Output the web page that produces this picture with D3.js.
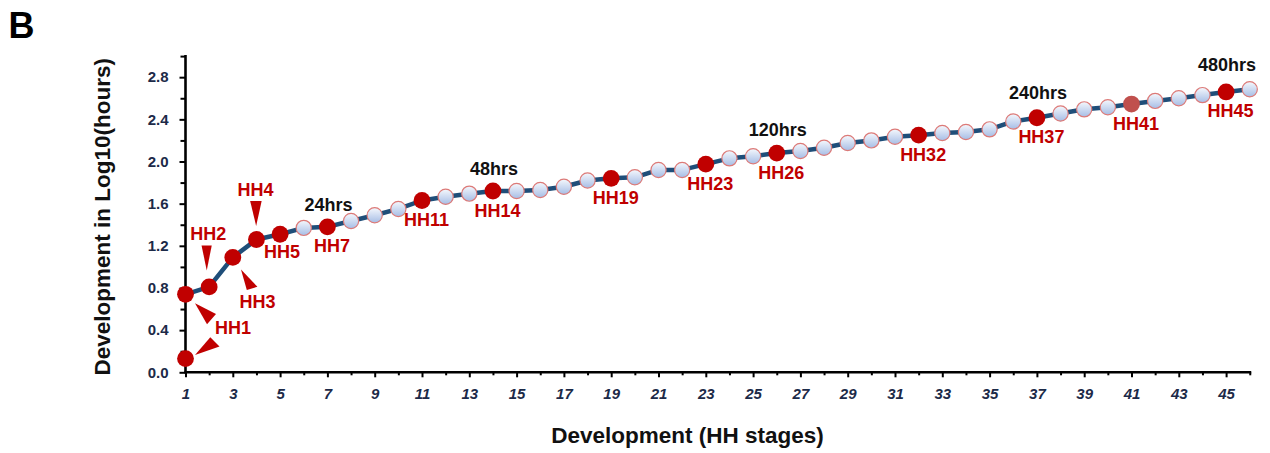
<!DOCTYPE html>
<html>
<head>
<meta charset="utf-8">
<script src="https://cdn.jsdelivr.net/npm/d3@7"></script>
<style>
  html, body { margin: 0; padding: 0; background: #ffffff; }
  svg { display: block; font-family: "Liberation Sans", Arial, sans-serif; }
</style>
</head>
<body>
<svg id="chart" width="1270" height="453"></svg>
<script>
// HH stages on the x axis
const stages = [1, 2, 3, 4, 5, 6, 7, 8, 9, 10, 11, 12, 13, 14, 15, 16, 17, 18, 19, 20,
  21, 22, 23, 24, 25, 26, 27, 28, 29, 30, 31, 32, 33, 34, 35, 36, 37, 38, 39, 40,
  41, 42, 43, 44, 45, 46];

// Development time, log10(hours), one value per stage
const log10Hours = [0.74, 0.81, 1.09, 1.26, 1.31, 1.37, 1.38, 1.435, 1.49, 1.55,
  1.63, 1.665, 1.695, 1.72, 1.72, 1.73, 1.76, 1.82, 1.84, 1.85,
  1.92, 1.92, 1.975, 2.03, 2.05, 2.08, 2.10, 2.13, 2.175, 2.20,
  2.235, 2.25, 2.27, 2.28, 2.305, 2.38, 2.415, 2.455, 2.495, 2.515,
  2.545, 2.575, 2.60, 2.63, 2.66, 2.685];

// Earliest HH1 time point (separate from the connected series)
const earlyStage = [1];
const earlyValue = [0.13];

// Stages highlighted with a red marker and an "HH" label
const labelledStages = [1, 2, 3, 4, 5, 7, 11, 14, 19, 23, 26, 32, 37, 41, 45];

// Elapsed-time callouts
const hourStages = [7, 14, 26, 37, 45];
const hourLabels = ["24hrs", "48hrs", "120hrs", "240hrs", "480hrs"];

// Axis ticks
const yTickValues = [0.0, 0.4, 0.8, 1.2, 1.6, 2.0, 2.4, 2.8];
const xTickValues = [1, 3, 5, 7, 9, 11, 13, 15, 17, 19, 21, 23, 25, 27, 29, 31, 33, 35, 37, 39, 41, 43, 45];

const svg = d3.select("#chart");
const RED = "#c00000";
const TICK_COLOR = "#1c2a48";

const x = d3.scaleLinear().domain([1, 46]).range([185.5, 1249.75]);
const y = d3.scaleLinear().domain([0, 3]).range([372.3, 56.1]);

// gradient for the unlabelled markers
const defs = svg.append("defs");
const grad = defs.append("linearGradient")
  .attr("id", "bubble").attr("x1", 0).attr("y1", 0).attr("x2", 0).attr("y2", 1);
grad.append("stop").attr("offset", "0%").attr("stop-color", "#f5f8fd");
grad.append("stop").attr("offset", "100%").attr("stop-color", "#a6bde5");

// panel letter
svg.append("text")
  .attr("x", 8.5).attr("y", 38.3)
  .attr("font-size", 36).attr("font-weight", "bold").attr("fill", "#000")
  .text("B");

// ---- axes ----
const gx = svg.append("g").attr("transform", `translate(0,${y(0)})`);
gx.call(d3.axisBottom(x).tickValues(xTickValues).tickSize(5).tickSizeOuter(0).tickFormat(d3.format("d")));
const gxMinor = svg.append("g").attr("transform", `translate(0,${y(0)})`);
gxMinor.call(d3.axisBottom(x).tickValues(stages.filter(s => s % 2 === 0)).tickSize(3).tickSizeOuter(0).tickFormat(""));
gxMinor.select(".domain").remove();

gx.select(".domain").attr("stroke", "#000").attr("stroke-width", 2.6)
  .attr("d", `M${x(1) - 1},0H${x(46) + 1.5}`);
[gx, gxMinor].forEach(g => g.selectAll(".tick line").attr("stroke", "#000").attr("stroke-width", 2));
gx.selectAll(".tick text")
  .attr("y", 27).attr("dy", 0)
  .attr("font-size", 15).attr("font-weight", "bold").attr("font-style", "italic")
  .attr("font-family", "'Liberation Sans', Arial, sans-serif")
  .attr("fill", TICK_COLOR);

const gy = svg.append("g").attr("transform", `translate(${x(1)},0)`);
gy.call(d3.axisLeft(y).tickValues(yTickValues).tickSize(6).tickSizeOuter(0).tickPadding(11).tickFormat(d3.format(".1f")));
const gyMinor = svg.append("g").attr("transform", `translate(${x(1)},0)`);
gyMinor.call(d3.axisLeft(y).tickValues([0.2, 0.6, 1.0, 1.4, 1.8, 2.2, 2.6, 3.0]).tickSize(5).tickSizeOuter(0).tickFormat(""));
gyMinor.select(".domain").remove();
gy.select(".domain").attr("stroke", "#000").attr("stroke-width", 2.6)
  .attr("d", `M0,${y(0) + 1}V${y(3) - 1}`);
[gy, gyMinor].forEach(g => g.selectAll(".tick line").attr("stroke", "#000").attr("stroke-width", 2));
gy.selectAll(".tick text")
  .attr("font-size", 15).attr("font-weight", "bold")
  .attr("font-family", "'Liberation Sans', Arial, sans-serif")
  .attr("fill", TICK_COLOR);

// axis titles
svg.append("text")
  .attr("transform", `translate(110,216.7) rotate(-90)`)
  .attr("text-anchor", "middle")
  .attr("font-size", 22.5).attr("font-weight", "bold").attr("fill", "#111")
  .text("Development in Log10(hours)");
svg.append("text")
  .attr("x", 687.5).attr("y", 442.7)
  .attr("text-anchor", "middle")
  .attr("font-size", 22.5).attr("font-weight", "bold").attr("fill", "#111")
  .text("Development (HH stages)");

// ---- series ----
const series = stages.map((s, i) => ({ stage: s, value: log10Hours[i] }));
const early = earlyStage.map((s, i) => ({ stage: s, value: earlyValue[i] }));

svg.append("path")
  .datum(series)
  .attr("fill", "none")
  .attr("stroke", "#1f4e79")
  .attr("stroke-width", 4.5)
  .attr("stroke-linejoin", "round")
  .attr("d", d3.line().x(d => x(d.stage)).y(d => y(d.value)));

const isLabelled = s => labelledStages.includes(s);

svg.append("g").selectAll("circle.plain")
  .data(series.filter(d => !isLabelled(d.stage)))
  .join("circle")
  .attr("cx", d => x(d.stage)).attr("cy", d => y(d.value))
  .attr("r", 7.6)
  .attr("fill", "url(#bubble)")
  .attr("stroke", "#dc7a78").attr("stroke-width", 1.2);

svg.append("g").selectAll("circle.key")
  .data(series.filter(d => isLabelled(d.stage)).concat(early))
  .join("circle")
  .attr("cx", d => x(d.stage)).attr("cy", d => y(d.value))
  .attr("r", 8.4)
  .attr("fill", d => d.stage === 41 ? "#c0504d" : RED);

// ---- stage labels ----
// offset of each label's baseline centre from its marker
const labelOffset = {
  1: [47.5, 39.7], 2: [-1, -47], 3: [24.7, 51], 4: [-1, -43], 5: [2, 24]
};
const valueAt = s => log10Hours[stages.indexOf(s)];

svg.append("g").selectAll("text")
  .data(labelledStages)
  .join("text")
  .attr("x", s => x(s) + (labelOffset[s] ? labelOffset[s][0] : 4.5))
  .attr("y", s => y(valueAt(s)) + (labelOffset[s] ? labelOffset[s][1] : 25.5))
  .attr("text-anchor", "middle")
  .attr("font-size", 18).attr("font-weight", "bold").attr("fill", RED)
  .text(s => "HH" + s);

// pointer triangles for the earliest stages (vertices relative to a marker)
const pointers = [
  { stage: 1, value: valueAt(1), pts: [[9.5, 9], [21.5, 30], [30.5, 19.7]] },
  { stage: earlyStage[0], value: earlyValue[0], pts: [[9.5, -3.6], [24.8, -21.3], [34, -12.2]] },
  { stage: 2, value: valueAt(2), pts: [[-2.4, -16.5], [-7.6, -41.5], [2.6, -41.5]] },
  { stage: 3, value: valueAt(3), pts: [[8.2, 12], [14, 32.6], [24.6, 29.3]] },
  { stage: 4, value: valueAt(4), pts: [[-0.3, -13.5], [-6.3, -38.5], [5.2, -38.5]] }
];
svg.append("g").selectAll("path")
  .data(pointers)
  .join("path")
  .attr("fill", RED)
  .attr("d", p => "M" + p.pts.map(([dx, dy]) => `${x(p.stage) + dx},${y(p.value) + dy}`).join("L") + "Z");

// ---- hour callouts ----
const hourLift = [-16.3, -16, -17, -18.4, -21];
svg.append("g").selectAll("text")
  .data(hourStages)
  .join("text")
  .attr("x", s => x(s) + 1)
  .attr("y", (s, i) => y(valueAt(s)) + hourLift[i])
  .attr("text-anchor", "middle")
  .attr("font-size", 18).attr("font-weight", "bold").attr("fill", "#111")
  .text((s, i) => hourLabels[i]);
</script>
</body>
</html>
